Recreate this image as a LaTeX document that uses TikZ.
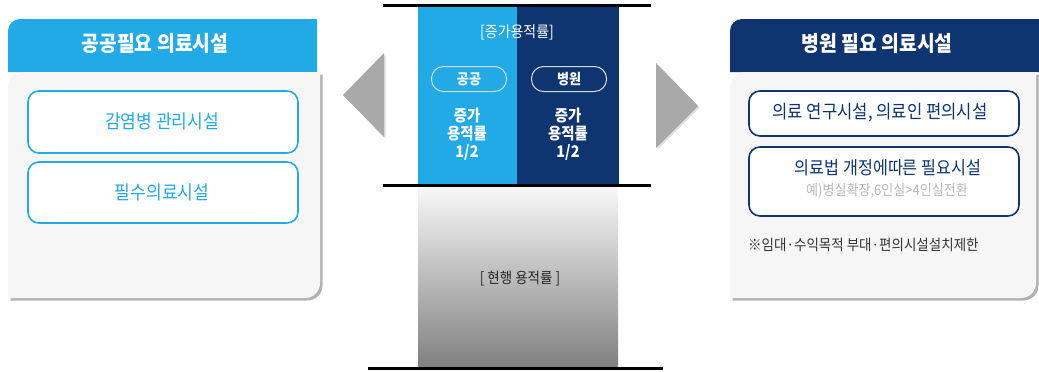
\documentclass[tikz,border=0pt]{standalone}
\usepackage{fontspec}
\setmainfont{Noto Sans CJK KR}[FakeStretch=0.9]
\usetikzlibrary{shadows}
\definecolor{sky}{HTML}{22AAE6}
\definecolor{navy}{HTML}{0E3570}
\definecolor{panelbg}{HTML}{F6F6F6}
\definecolor{arrowgray}{HTML}{A9A9A9}
\definecolor{subgray}{HTML}{B8B8B8}
\definecolor{notegray}{HTML}{333333}
\tikzset{
  panelshadow/.style={drop shadow={shadow xshift=2.5pt,shadow yshift=-2.5pt,fill=black,opacity=0.3}},
  itembox/.style={draw=#1,line width=1.6pt,fill=white,rounded corners=11pt},
  pill/.style={draw=white!85!black,line width=1pt,rounded corners=12pt,minimum width=75pt,minimum height=25pt,inner sep=0pt,text=white,font=\fontsize{14.5}{18}\selectfont\bfseries},
  divider/.style={line width=3pt,black},
  coltext/.style={text=white,font=\fontsize{16}{18}\selectfont\bfseries,align=center},
}
\begin{document}
\begin{tikzpicture}[x=1pt,y=1pt]
\useasboundingbox (0,0) rectangle (1039,-372);

% ---------- left panel ----------
\fill[sky] (8,-72) -- (8,-31) arc[start angle=180,end angle=90,radius=12] -- (317,-19) -- (317,-72) -- cycle;
\fill[panelbg,panelshadow] (8,-298) -- (8,-88) arc[start angle=180,end angle=90,radius=16] -- (320,-72) -- (320,-283) arc[start angle=0,end angle=-90,radius=15] -- cycle;
\node[text=white,font=\fontsize{21.5}{24}\selectfont\bfseries] (ltitle) at (155,-43) {공공필요 의료시설};
\draw[itembox=sky] (28,-91) rectangle (298,-153);
\node[text=sky,font=\fontsize{19}{22}\selectfont] (lbox1) at (162,-121) {감염병 관리시설};
\draw[itembox=sky] (28,-162) rectangle (298,-223);
\node[text=sky,font=\fontsize{19}{22}\selectfont] (lbox2) at (162,-192) {필수의료시설};

% ---------- arrows ----------
\fill[arrowgray,drop shadow={shadow xshift=1.5pt,shadow yshift=-1.5pt,opacity=0.25}] (343,-95) -- (384,-53) -- (384,-137) -- cycle;
\fill[arrowgray,drop shadow={shadow xshift=1.5pt,shadow yshift=-1.5pt,opacity=0.25}] (656,-63) -- (698,-106) -- (656,-148) -- cycle;

% ---------- center ----------
\fill[sky] (418,-5) rectangle (517,-185);
\fill[navy] (517,-5) rectangle (619,-185);
\shade[top color=white!97!black,middle color=white!80!black,bottom color=white!50!black] (418,-187) rectangle (618,-368);
\draw[divider] (383,-5) -- (651,-5);
\draw[divider] (383,-185) -- (651,-185);
\draw[divider] (368,-368) -- (663,-368);

\node[text=white,font=\fontsize{15.5}{18}\selectfont] (inc) at (517,-32) {[증가용적률]};
\node[pill] (pub) at (469,-79) {공공};
\node[pill] (hos) at (569,-79) {병원};
\node[coltext] (pubval) at (467,-134) {증가\\용적률\\1/2};
\node[coltext] (hosval) at (568,-134) {증가\\용적률\\1/2};
\node[text=black!85,font=\fontsize{15}{18}\selectfont] (cur) at (520,-279) {[ 현행 용적률 ]};

% ---------- right panel ----------
\fill[navy] (730,-72) -- (730,-31) arc[start angle=180,end angle=90,radius=12] -- (1039,-19) -- (1039,-72) -- cycle;
\fill[panelbg,panelshadow] (730,-298) -- (730,-88) arc[start angle=180,end angle=90,radius=16] -- (1036,-72) -- (1036,-283) arc[start angle=0,end angle=-90,radius=15] -- cycle;
\node[text=white,font=\fontsize{21.5}{24}\selectfont\bfseries] (rtitle) at (877,-43) {병원 필요 의료시설};
\draw[itembox=navy] (749,-91) rectangle (1019,-136);
\node[text=navy,font=\fontsize{18.5}{22}\selectfont] (rbox1) at (880,-113) {의료 연구시설, 의료인 편의시설};
\draw[itembox=navy] (749,-147) rectangle (1019,-216);
\node[text=navy,font=\fontsize{18}{22}\selectfont] (rbox2) at (888,-168) {의료법 개정에따른 필요시설};
\node[text=subgray,font=\fontsize{14.5}{16}\selectfont] (rsub) at (887,-191) {예)병실확장,6인실>4인실전환};
\node[text=notegray,font=\fontsize{15}{16}\selectfont,anchor=west,inner sep=0pt] (note) at (748,-245) {※임대·수익목적 부대·편의시설설치제한};
\end{tikzpicture}
\end{document}
